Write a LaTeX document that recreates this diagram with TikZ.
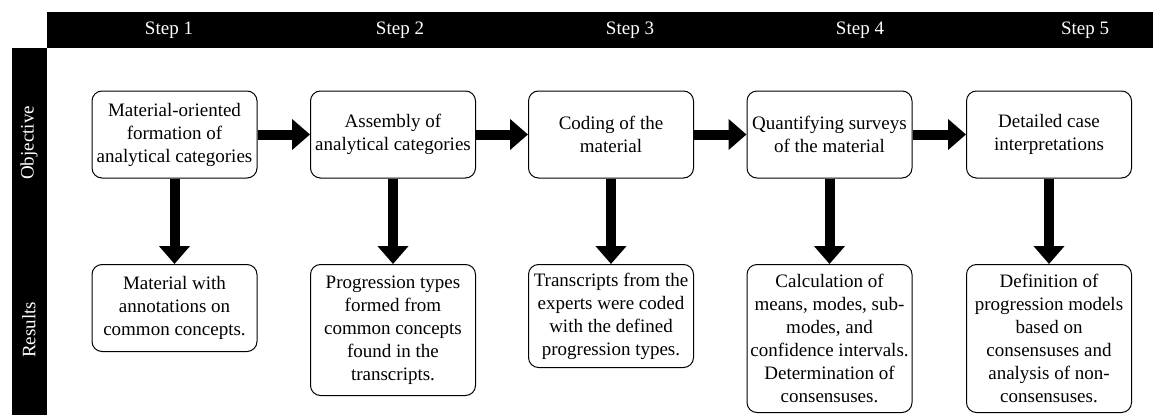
\documentclass[tikz,border=0pt]{standalone}
\usepackage{fontspec}
\setmainfont{Liberation Serif}
\usetikzlibrary{arrows.meta}

\begin{document}
\begin{tikzpicture}[x=1pt, y=-1pt,
    stepbox/.style={draw, line width=1pt, rounded corners=10pt, minimum width=165pt,
        align=center, inner sep=2pt, font=\fontsize{19}{23}\selectfont},
    bigarrow/.style={line width=10pt, -{Triangle[width=30pt, length=18pt]}},
    barlabel/.style={text=white, font=\fontsize{19}{23}\selectfont}]
    % 背景与边框
    \useasboundingbox (0,0) rectangle (1153,415);
    \fill (47,12) rectangle (1153,48);
    \fill (12,48) rectangle (47,415);

    % 步骤标题
    \node[barlabel] (s1) at (169,30) {Step 1};
    \node[barlabel] (s2) at (400,30) {Step 2};
    \node[barlabel] (s3) at (630,30) {Step 3};
    \node[barlabel] (s4) at (860,30) {Step 4};
    \node[barlabel] (s5) at (1085,30) {Step 5};

    % 行标题
    \node[barlabel, rotate=90] (obj) at (29,143) {Objective};
    \node[barlabel, rotate=90] (res) at (29,330) {Results};

    % 目标
    \node[stepbox, minimum height=87pt] (o1) at (174.5,134.5) {Material-oriented\\formation of\\analytical categories};
    \node[stepbox, minimum height=87pt] (o2) at (393,134.5) {Assembly of\\analytical categories};
    \node[stepbox, minimum height=87pt] (o3) at (611,134.5) {Coding of the\\material};
    \node[stepbox, minimum height=87pt] (o4) at (829.5,134.5) {Quantifying surveys\\of the material};
    \node[stepbox, minimum height=87pt] (o5) at (1049,134.5) {Detailed case\\interpretations};

    % 结果
    \node[stepbox, anchor=north, minimum height=87pt] (r1) at (174.5,264) {Material with\\annotations on\\common concepts.};
    \node[stepbox, anchor=north, minimum height=131pt] (r2) at (393,264) {Progression types\\formed from\\common concepts\\found in the\\transcripts.};
    \node[stepbox, anchor=north, minimum height=103pt] (r3) at (611,264) {Transcripts from the\\experts were coded\\with the defined\\progression types.};
    \node[stepbox, anchor=north, minimum height=148pt] (r4) at (829.5,264) {Calculation of\\means, modes, sub-\\modes, and\\confidence intervals.\\Determination of\\consensuses.};
    \node[stepbox, anchor=north, minimum height=148pt] (r5) at (1049,264) {Definition of\\progression models\\based on\\consensuses and\\analysis of non-\\consensuses.};

    % 箭头
    \draw[bigarrow] (o1) -- (o2);
    \draw[bigarrow] (o2) -- (o3);
    \draw[bigarrow] (o3) -- (o4);
    \draw[bigarrow] (o4) -- (o5);
    \draw[bigarrow] (o1) -- (r1);
    \draw[bigarrow] (o2) -- (r2);
    \draw[bigarrow] (o3) -- (r3);
    \draw[bigarrow] (o4) -- (r4);
    \draw[bigarrow] (o5) -- (r5);
\end{tikzpicture}
\end{document}
